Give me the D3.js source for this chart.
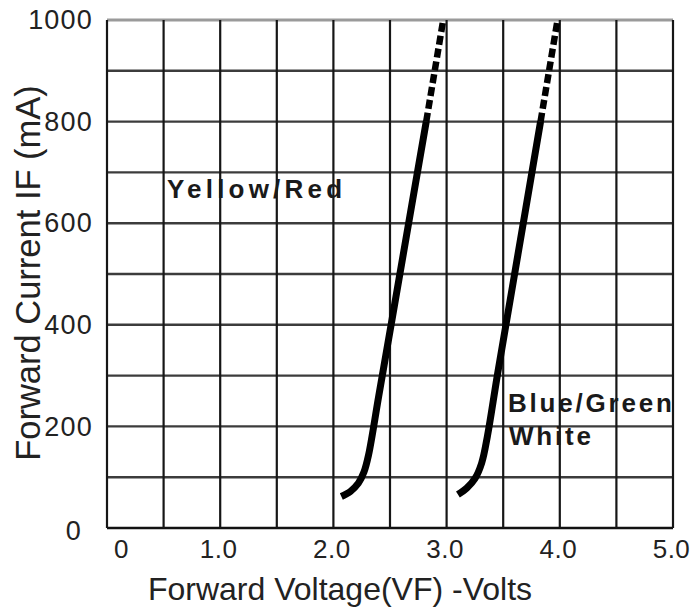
<!DOCTYPE html>
<html>
<head>
<meta charset="utf-8">
<script src="https://cdn.jsdelivr.net/npm/d3@7"></script>
<style>
  html, body { margin: 0; padding: 0; background: #fff; }
  svg { display: block; font-family: "Liberation Sans", Arial, sans-serif; }
</style>
</head>
<body>
<svg id="chart" width="694" height="608"></svg>
<script>
// Forward voltage (V) vs forward current (mA) for the two LED families.
const yellowRedVolts   = [2.07, 2.15, 2.22, 2.27, 2.31, 2.40, 2.52, 2.66, 2.82];
const yellowRedCurrent = [62, 72, 88, 110, 143, 259, 413, 594, 800];
const yellowRedExtVolts   = [2.82, 2.97];
const yellowRedExtCurrent = [800, 1000];

const blueGreenVolts   = [3.10, 3.18, 3.25, 3.31, 3.36, 3.45, 3.60, 3.83];
const blueGreenCurrent = [66, 79, 97, 128, 180, 303, 499, 800];
const blueGreenExtVolts   = [3.83, 3.98];
const blueGreenExtCurrent = [800, 1000];

const voltTicks    = [0, 1, 2, 3, 4, 5];
const currentTicks = [0, 200, 400, 600, 800, 1000];
const voltGrid     = [0, 0.5, 1, 1.5, 2, 2.5, 3, 3.5, 4, 4.5, 5];
const currentGrid  = [0, 100, 200, 300, 400, 500, 600, 700, 800, 900, 1000];

const svg = d3.select("#chart");
const x = d3.scaleLinear().domain([0, 5]).range([107, 673]);
const y = d3.scaleLinear().domain([0, 1000]).range([528, 20]);

// grid
const grid = svg.append("g");
grid.selectAll("line.h").data(currentGrid).join("line")
  .attr("class", "h")
  .attr("x1", x(0)).attr("x2", x(5))
  .attr("y1", d => y(d)).attr("y2", d => y(d))
  .attr("stroke", d => d === 1000 ? "#9a9a9a" : (d === 0 ? "#111" : "#3c3c3c"))
  .attr("stroke-width", d => d === 1000 ? 3 : 2.4);
grid.selectAll("line.v").data(voltGrid).join("line")
  .attr("class", "v")
  .attr("x1", d => x(d)).attr("x2", d => x(d))
  .attr("y1", y(1000)).attr("y2", y(0))
  .attr("stroke", "#161616")
  .attr("stroke-width", 2.2);

// axes (labels only)
const xAxis = svg.append("g")
  .attr("transform", `translate(0,${y(0)})`)
  .call(d3.axisBottom(x).tickValues(voltTicks).tickSize(0).tickPadding(12)
    .tickFormat(d => d === 0 ? "0" : d.toFixed(1)));
xAxis.select(".domain").remove();
xAxis.selectAll("text")
  .attr("font-size", 26).attr("fill", "#222")
  .attr("font-family", "Liberation Sans, Arial, sans-serif")
  .attr("letter-spacing", "0.5px")
  .attr("dx", d => d === 0 ? 14 : -2);

const yAxis = svg.append("g")
  .attr("transform", `translate(${x(0)},0)`)
  .call(d3.axisLeft(y).tickValues(currentTicks).tickSize(0).tickPadding(14)
    .tickFormat(d3.format("d")));
yAxis.select(".domain").remove();
yAxis.selectAll("text")
  .attr("font-size", 27).attr("fill", "#222")
  .attr("font-family", "Liberation Sans, Arial, sans-serif")
  .attr("letter-spacing", "1.2px")
  .attr("dx", d => d === 0 ? -11 : 0)
  .attr("dy", d => d === 0 ? "0.42em" : "0.32em");

// axis titles
svg.append("text")
  .attr("x", 340).attr("y", 600)
  .attr("text-anchor", "middle")
  .attr("font-size", 32).attr("fill", "#222")
  .text("Forward Voltage(VF) -Volts");
svg.append("text")
  .attr("transform", "translate(40,273) rotate(-90)")
  .attr("text-anchor", "middle")
  .attr("font-size", 34.5).attr("fill", "#222")
  .text("Forward Current IF (mA)");

// curves
const line = d3.line()
  .x(d => x(d[0])).y(d => y(d[1]))
  .curve(d3.curveCatmullRom.alpha(0.5));

function drawCurve(volts, current, ext) {
  const pts = volts.map((v, i) => [v, current[i]]);
  svg.append("path").datum(pts)
    .attr("d", line)
    .attr("fill", "none").attr("stroke", "#000")
    .attr("stroke-width", 7).attr("stroke-linecap", "butt")
    .attr("stroke-linejoin", "round");
  const extPts = ext[0].map((v, i) => [v, ext[1][i]]);
  svg.append("path").datum(extPts)
    .attr("d", d3.line().x(d => x(d[0])).y(d => y(d[1])))
    .attr("fill", "none").attr("stroke", "#000")
    .attr("stroke-width", 6.5)
    .attr("stroke-dasharray", "9,4");
}
drawCurve(yellowRedVolts, yellowRedCurrent, [yellowRedExtVolts, yellowRedExtCurrent]);
drawCurve(blueGreenVolts, blueGreenCurrent, [blueGreenExtVolts, blueGreenExtCurrent]);

// series labels
const lab = svg.append("g")
  .attr("font-weight", "bold").attr("font-size", 26)
  .attr("fill", "#1a1a1a");
lab.append("text").attr("x", 167).attr("y", 198)
  .attr("letter-spacing", "4.2px").text("Yellow/Red");
lab.append("text").attr("x", 508).attr("y", 412)
  .attr("letter-spacing", "2.8px").text("Blue/Green");
lab.append("text").attr("x", 509).attr("y", 445)
  .attr("letter-spacing", "2.8px").text("White");
</script>
</body>
</html>
